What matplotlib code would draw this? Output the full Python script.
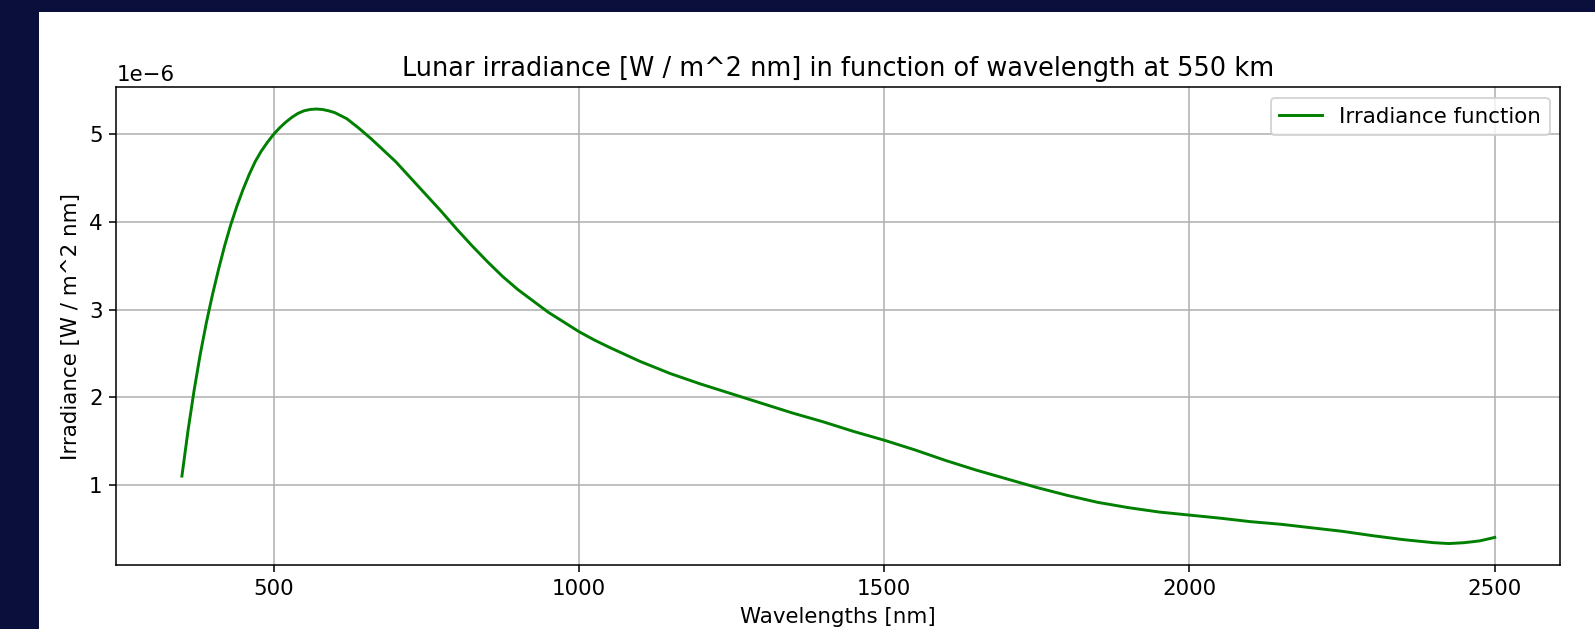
import numpy as np
import matplotlib
matplotlib.use("Agg")
import matplotlib.pyplot as plt
from matplotlib.patches import Rectangle

# wavelength [nm] and irradiance [1e-6 W / m^2 nm]
wavelengths = [350, 360, 370, 380, 390, 400, 410, 420, 430, 440, 450, 460,
               470, 480, 490, 500, 510, 520, 530, 540, 550, 560, 570, 580,
               590, 600, 620, 640, 660, 680, 700, 725, 750, 775, 800, 825,
               850, 875, 900, 925, 950, 975, 1000, 1025, 1050, 1100, 1150,
               1200, 1250, 1300, 1350, 1400, 1450, 1500, 1550, 1600, 1650,
               1700, 1750, 1800, 1850, 1900, 1950, 2000, 2050, 2100, 2150,
               2200, 2250, 2300, 2350, 2400, 2425, 2450, 2475, 2500]
irradiance = [1.10, 1.62, 2.08, 2.49, 2.85, 3.17, 3.46, 3.73, 3.97, 4.18,
              4.37, 4.54, 4.69, 4.81, 4.91, 5.00, 5.075, 5.14, 5.195, 5.24,
              5.27, 5.285, 5.29, 5.285, 5.27, 5.25, 5.18, 5.07, 4.95, 4.82,
              4.69, 4.50, 4.31, 4.12, 3.92, 3.73, 3.55, 3.38, 3.23, 3.10,
              2.97, 2.86, 2.75, 2.655, 2.57, 2.41, 2.27, 2.15, 2.04, 1.93,
              1.82, 1.72, 1.61, 1.51, 1.40, 1.28, 1.17, 1.07, 0.97, 0.88,
              0.80, 0.74, 0.69, 0.655, 0.62, 0.58, 0.55, 0.51, 0.47, 0.42,
              0.375, 0.34, 0.33, 0.34, 0.36, 0.40]

x = np.array(wavelengths)
y = np.array(irradiance) * 1e-6

plt.rcParams["font.size"] = 11

fig = plt.figure(figsize=(1595 / 140, 629 / 140), dpi=140)
fig.patch.set_facecolor("#0a0f3c")
# white card the chart sits on
fig.patches.append(Rectangle((39 / 1595, 0), 1 - 39 / 1595, 1 - 12 / 629,
                             transform=fig.transFigure, facecolor="white",
                             edgecolor="none", zorder=-10))

ax = fig.add_axes([0.0729, 0.1013, 0.9054, 0.7599])
ax.set_zorder(1)
ax.plot(x, y, color="green", label="Irradiance function")
ax.set_title("Lunar irradiance [W / m^2 nm] in function of wavelength at 550 km")
ax.set_xlabel("Wavelengths [nm]")
ax.set_ylabel("Irradiance [W / m^2 nm]")
ax.grid(True)
ax.legend(loc="upper right")

fig.savefig("out.png", dpi=140, facecolor=fig.get_facecolor())
